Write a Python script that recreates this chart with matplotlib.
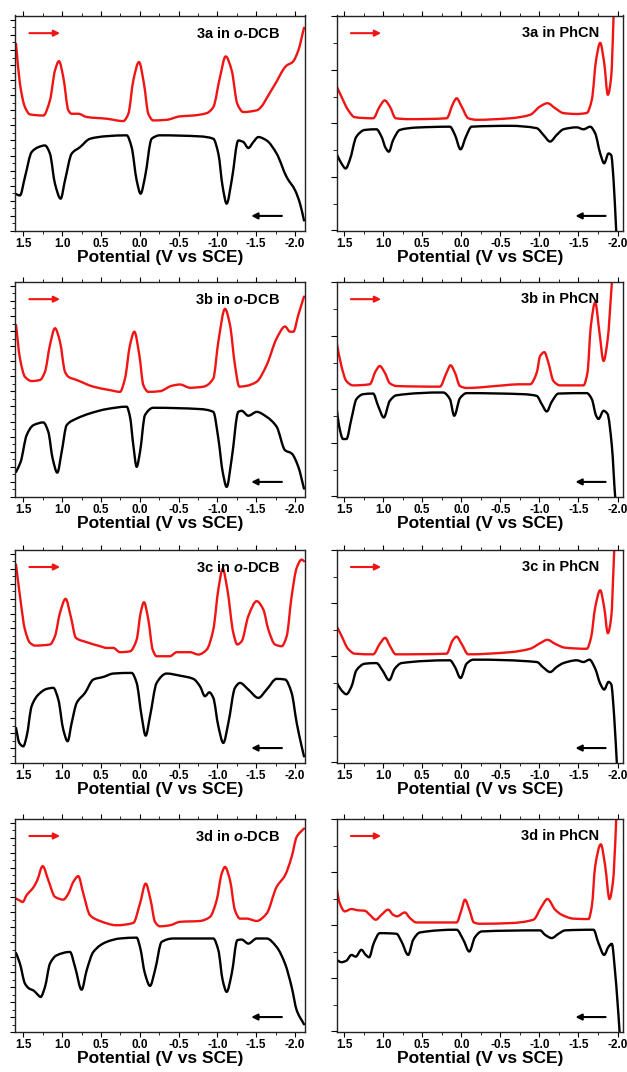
import numpy as np
import matplotlib
matplotlib.use("Agg")
from matplotlib import pyplot as plt
from matplotlib.path import Path
from matplotlib.patches import PathPatch
from matplotlib.ticker import MultipleLocator, FixedLocator, NullFormatter

plt.rcParams['font.family'] = ['Liberation Sans', 'DejaVu Sans']
plt.rcParams['mathtext.fontset'] = 'custom'
plt.rcParams['mathtext.it'] = 'Liberation Sans:italic:bold'
plt.rcParams['mathtext.rm'] = 'Liberation Sans:bold'
plt.rcParams['axes.unicode_minus'] = False

# ---- data: potential (V vs SCE) and current (arb. units, 0-100 of panel) ----
# 3a in o-DCB
dcb_3a_red_E = [1.594, 1.543, 1.479, 1.414, 1.242, 1.157, 1.092, 1.041, 0.985, 0.920, 0.877, 0.792, 0.684, 0.427,
                0.212, 0.147, 0.083, 0.010, -0.054, -0.110, -0.175, -0.346, -0.518, -0.690, -0.862, -0.947, -1.033,
                -1.106, -1.184, -1.256, -1.334, -1.506, -1.720, -1.892, -1.969, -2.042, -2.115]
dcb_3a_red_I = [86.9, 68.3, 57.5, 54.1, 53.6, 60.6, 74.5, 78.8, 71.4, 56.0, 54.4, 54.4, 52.9, 52.1,
                51.0, 54.4, 69.9, 78.4, 68.3, 54.4, 51.3, 51.6, 53.2, 53.6, 54.7, 57.5, 71.4,
                81.0, 74.5, 59.0, 55.2, 56.0, 66.8, 76.8, 78.4, 83.8, 94.3]
dcb_3a_blk_E = [1.607, 1.543, 1.479, 1.393, 1.307, 1.221, 1.157, 1.092, 1.019, 0.963, 0.877, 0.770, 0.641, 0.427,
                0.169, 0.105, 0.040, -0.011, -0.067, -0.153, -0.260, -0.776, -0.947, -1.012, -1.068, -1.119,
                -1.184, -1.269, -1.334, -1.398, -1.463, -1.527, -1.634, -1.763, -1.892, -2.000, -2.064, -2.115]
dcb_3a_blk_I = [17.3, 16.5, 25.0, 36.6, 38.9, 39.7, 35.9, 21.9, 15.0, 23.5, 35.9, 38.9, 42.8, 44.0,
                44.4, 38.9, 23.5, 17.3, 25.0, 42.8, 44.4, 43.9, 42.8, 35.9, 20.4, 12.7,
                23.5, 42.0, 41.3, 38.5, 41.3, 43.6, 42.0, 35.9, 25.0, 18.9, 12.7, 4.9]

# 3a in PhCN
phcn_3a_red_E = [1.598, 1.534, 1.449, 1.363, 1.128, 1.043, 0.979, 0.915, 0.838, 0.658, 0.188, 0.103, 0.060, -0.004,
                 -0.090, -0.197, -0.624, -0.880, -1.009, -1.103, -1.201, -1.308, -1.479, -1.607, -1.671, -1.726,
                 -1.778, -1.829, -1.876, -1.919, -1.949, -1.957]
phcn_3a_red_I = [67.4, 62.4, 56.2, 52.8, 52.3, 57.8, 60.6, 57.8, 52.3, 51.9, 52.3, 59.3, 61.6, 57.8,
                 52.3, 51.6, 52.3, 53.9, 57.8, 59.3, 57.0, 54.7, 54.3, 54.8, 60.9, 79.5,
                 87.3, 78.0, 63.2, 71.7, 99.7, 110]
phcn_3a_blk_E = [1.598, 1.534, 1.479, 1.427, 1.342, 1.235, 1.085, 1.021, 0.966, 0.927, 0.872, 0.786, 0.573, 0.145,
                 0.081, 0.009, -0.060, -0.132, -0.624, -0.966, -1.051, -1.137, -1.222, -1.308, -1.479, -1.564,
                 -1.650, -1.714, -1.778, -1.829, -1.885, -1.919, -1.949, -1.983, -1.991]
phcn_3a_blk_I = [36.0, 31.4, 29.0, 32.9, 43.8, 46.9, 47.2, 43.8, 38.4, 36.8, 42.2, 46.9, 48.0, 48.4,
                 44.6, 37.9, 43.8, 48.4, 48.8, 47.7, 44.6, 41.5, 44.6, 47.2, 48.1, 47.2,
                 48.4, 45.3, 36.0, 31.4, 36.0, 35.2, 23.6, 0.0, -5]

# 3b in o-DCB
dcb_3b_red_E = [1.594, 1.543, 1.479, 1.393, 1.285, 1.221, 1.157, 1.092, 1.028, 0.963, 0.920, 0.813, 0.598, 0.384,
                0.255, 0.190, 0.126, 0.070, 0.006, -0.046, -0.110, -0.260, -0.411, -0.518, -0.647, -0.819, -0.947,
                -1.012, -1.098, -1.162, -1.226, -1.282, -1.377, -1.506, -1.634, -1.763, -1.871, -1.935, -1.978,
                -2.042, -2.115]
dcb_3b_red_I = [79.8, 64.3, 55.8, 53.8, 54.3, 58.1, 70.5, 78.3, 72.1, 58.1, 55.8, 54.3, 51.2, 49.6,
                48.8, 55.0, 70.5, 76.7, 65.9, 51.9, 48.8, 49.1, 51.6, 52.2, 50.7, 51.2, 55.0,
                72.1, 87.3, 79.8, 61.2, 51.2, 51.6, 53.5, 61.2, 73.6, 79.1, 76.7, 76.7,
                84.5, 93.0]
dcb_3b_blk_E = [1.594, 1.534, 1.457, 1.371, 1.242, 1.178, 1.122, 1.062, 1.006, 0.942, 0.813, 0.641, 0.427, 0.169,
                0.126, 0.083, 0.040, -0.003, -0.067, -0.175, -0.776, -0.947, -1.012, -1.068, -1.119, -1.184,
                -1.269, -1.312, -1.398, -1.506, -1.634, -1.763, -1.871, -1.956, -2.042, -2.115]
dcb_3b_blk_I = [11.6, 16.3, 28.7, 33.3, 34.6, 30.2, 17.8, 11.3, 20.9, 33.3, 36.4, 38.8, 40.8, 41.9,
                37.2, 24.0, 14.0, 20.9, 38.0, 41.4, 40.8, 39.5, 27.1, 11.6, 4.7, 17.8,
                39.5, 40.0, 37.7, 39.5, 37.2, 32.6, 21.7, 20.2, 14.0, 3.9]

# 3b in PhCN
phcn_3b_red_E = [1.598, 1.534, 1.470, 1.385, 1.171, 1.094, 1.043, 0.979, 0.915, 0.829, 0.274, 0.188, 0.137, 0.081,
                 0.017, -0.068, -0.538, -0.731, -0.880, -0.966, -1.009, -1.064, -1.115, -1.180, -1.265, -1.564,
                 -1.615, -1.658, -1.714, -1.769, -1.821, -1.872, -1.927, -1.949]
phcn_3b_red_I = [72.3, 60.8, 53.8, 51.8, 52.3, 58.5, 60.8, 57.7, 52.8, 51.5, 51.2, 57.7, 61.1, 57.7,
                 51.5, 50.6, 51.8, 52.3, 52.3, 57.7, 65.4, 67.2, 62.3, 53.8, 51.8, 51.8,
                 57.7, 79.2, 90.3, 76.2, 63.1, 72.6, 99.2, 110]
phcn_3b_blk_E = [1.598, 1.564, 1.513, 1.470, 1.406, 1.342, 1.256, 1.128, 1.064, 0.991, 0.915, 0.829, 0.231, 0.145,
                 0.090, 0.017, -0.068, -0.795, -0.966, -1.030, -1.094, -1.158, -1.244, -1.607, -1.671, -1.726,
                 -1.756, -1.821, -1.872, -1.927, -1.970, -1.983]
phcn_3b_blk_I = [42.3, 33.1, 26.9, 26.9, 36.2, 45.4, 47.7, 48.0, 42.3, 36.9, 44.6, 47.2, 48.5, 45.4,
                 37.7, 45.8, 48.2, 47.7, 46.9, 43.1, 39.7, 44.2, 48.0, 48.2, 45.4, 37.7,
                 36.2, 40.0, 38.5, 23.8, 0.0, -5]

# 3c in o-DCB
dcb_3c_red_E = [1.594, 1.543, 1.479, 1.414, 1.350, 1.157, 1.092, 1.028, 0.955, 0.890, 0.822, 0.684, 0.512, 0.427,
                0.341, 0.255, 0.126, 0.040, -0.011, -0.054, -0.110, -0.166, -0.217, -0.389, -0.475, -0.647,
                -0.754, -0.862, -0.947, -1.012, -1.068, -1.128, -1.205, -1.256, -1.312, -1.398, -1.506, -1.591,
                -1.656, -1.742, -1.828, -1.892, -1.956, -2.021, -2.085, -2.115]
dcb_3c_red_I = [93.0, 78.1, 62.5, 56.3, 55.0, 55.5, 59.4, 70.3, 76.9, 68.8, 58.6, 56.6, 54.7, 53.9,
                53.9, 51.9, 52.3, 57.8, 70.3, 75.3, 67.2, 53.1, 50.0, 50.0, 51.9, 51.9,
                50.8, 53.1, 62.5, 81.3, 90.9, 81.3, 60.9, 55.5, 57.0, 68.8, 75.8, 71.9,
                62.5, 55.5, 54.7, 59.4, 78.1, 91.4, 95.3, 94.5]
dcb_3c_blk_E = [1.594, 1.552, 1.500, 1.457, 1.393, 1.307, 1.199, 1.114, 1.049, 0.985, 0.929, 0.877, 0.813, 0.706,
                0.598, 0.470, 0.341, 0.105, 0.040, -0.024, -0.076, -0.132, -0.217, -0.346, -0.518, -0.690,
                -0.776, -0.840, -0.896, -0.947, -1.012, -1.076, -1.141, -1.226, -1.291, -1.398, -1.527, -1.634,
                -1.763, -1.871, -1.956, -2.021, -2.085, -2.115]
dcb_3c_blk_I = [16.4, 9.4, 7.8, 12.5, 26.6, 32.0, 34.7, 35.2, 29.7, 15.6, 10.2, 18.8, 28.1, 32.8,
                39.1, 40.3, 41.9, 42.2, 37.5, 21.9, 12.8, 21.9, 37.5, 41.9, 40.9, 39.4,
                35.9, 31.3, 33.1, 30.5, 17.2, 9.4, 18.8, 35.2, 37.5, 34.4, 30.5, 34.4,
                39.4, 39.1, 32.8, 18.8, 7.8, 3.1]

# 3c in PhCN
phcn_3c_red_E = [1.598, 1.534, 1.449, 1.363, 1.128, 1.043, 0.974, 0.915, 0.838, 0.188, 0.111, 0.060, -0.004, -0.090,
                 -0.624, -0.880, -1.009, -1.103, -1.201, -1.329, -1.607, -1.662, -1.714, -1.778, -1.829, -1.876,
                 -1.919, -1.957, -1.970]
phcn_3c_red_I = [64.3, 59.7, 53.5, 51.2, 50.9, 55.8, 58.6, 55.0, 50.9, 51.2, 57.4, 59.2, 55.8, 50.9,
                 51.9, 53.5, 56.1, 57.7, 55.8, 54.0, 53.5, 58.9, 72.9, 80.9, 72.9, 60.8,
                 68.2, 99.2, 110]
phcn_3c_blk_E = [1.598, 1.534, 1.470, 1.406, 1.342, 1.235, 1.085, 1.009, 0.923, 0.850, 0.765, 0.145, 0.081, 0.009,
                 -0.068, -0.154, -0.966, -1.051, -1.137, -1.222, -1.308, -1.479, -1.564, -1.641, -1.714, -1.778,
                 -1.829, -1.885, -1.919, -1.957, -1.991, -2.000]
phcn_3c_blk_I = [38.0, 34.1, 32.2, 35.7, 43.4, 46.5, 46.8, 43.4, 38.8, 44.2, 46.8, 48.1, 45.0, 39.8,
                 46.5, 48.4, 47.3, 44.7, 42.6, 45.0, 46.8, 48.1, 47.3, 48.4, 44.2, 37.2,
                 34.4, 38.0, 36.9, 21.7, 0.0, -5]

# 3d in o-DCB
dcb_3d_red_E = [1.594, 1.552, 1.509, 1.457, 1.371, 1.320, 1.251, 1.178, 1.092, 0.985, 0.920, 0.856, 0.792, 0.727,
                0.641, 0.512, 0.298, 0.083, -0.003, -0.076, -0.140, -0.196, -0.260, -0.389, -0.518, -0.776,
                -0.904, -0.990, -1.055, -1.098, -1.162, -1.226, -1.291, -1.377, -1.506, -1.634, -1.763, -1.871,
                -1.956, -2.021, -2.115]
dcb_3d_red_I = [62.5, 61.7, 60.9, 64.1, 67.7, 71.1, 77.7, 71.1, 63.3, 62.0, 64.8, 70.3, 73.0, 64.8,
                54.7, 52.0, 50.0, 51.1, 60.2, 69.5, 61.7, 51.6, 49.5, 50.0, 51.6, 52.0,
                53.9, 61.7, 74.2, 77.3, 71.1, 57.0, 53.1, 53.1, 52.0, 55.5, 68.0, 73.4,
                82.0, 91.4, 95.3]
dcb_3d_blk_E = [1.594, 1.543, 1.479, 1.423, 1.371, 1.320, 1.277, 1.221, 1.157, 1.071, 0.899, 0.834, 0.749, 0.684,
                0.598, 0.427, 0.255, 0.040, -0.003, -0.067, -0.132, -0.196, -0.282, -0.432, -0.947, -1.012,
                -1.068, -1.119, -1.184, -1.256, -1.312, -1.398, -1.506, -1.634, -1.763, -1.871, -1.956, -2.021,
                -2.115]
dcb_3d_blk_I = [37.0, 32.0, 22.7, 20.3, 19.5, 17.7, 16.4, 21.1, 32.0, 35.9, 37.5, 30.5, 19.8, 28.9,
                37.5, 42.2, 43.8, 44.2, 39.8, 27.3, 21.6, 28.9, 42.2, 43.8, 43.8, 38.3,
                24.2, 18.8, 27.3, 43.0, 43.3, 41.4, 43.8, 43.8, 39.8, 32.0, 21.1, 10.2,
                3.6]

# 3d in PhCN
phcn_3d_red_E = [1.598, 1.556, 1.491, 1.406, 1.321, 1.235, 1.171, 1.094, 1.021, 0.936, 0.872, 0.821, 0.722, 0.658,
                 0.573, 0.060, -0.004, -0.047, -0.103, -0.162, -0.239, -0.624, -0.923, -1.030, -1.103, -1.201,
                 -1.286, -1.436, -1.628, -1.671, -1.714, -1.786, -1.842, -1.897, -1.940, -1.983, -1.991]
phcn_3d_red_I = [68.0, 60.4, 56.5, 57.6, 57.0, 56.8, 54.9, 52.6, 54.9, 57.3, 54.9, 54.2, 56.0, 53.4,
                 51.3, 51.3, 57.3, 62.0, 57.3, 51.3, 50.7, 51.0, 52.6, 58.9, 62.3, 57.3,
                 54.9, 53.1, 52.9, 58.9, 77.7, 87.9, 77.7, 62.3, 69.9, 100.0, 110]
phcn_3d_blk_E = [1.598, 1.534, 1.470, 1.406, 1.350, 1.278, 1.222, 1.179, 1.120, 1.043, 0.829, 0.765, 0.679, 0.615,
                 0.530, 0.060, -0.026, -0.103, -0.175, -0.261, -1.009, -1.073, -1.158, -1.244, -1.329, -1.692,
                 -1.756, -1.829, -1.885, -1.927, -1.970, -2.026, -2.034]
phcn_3d_blk_I = [33.8, 32.7, 33.4, 36.1, 35.3, 38.5, 36.1, 35.0, 41.6, 46.3, 46.0, 42.4, 36.1, 43.2,
                 46.6, 47.9, 43.2, 37.7, 44.4, 47.1, 47.6, 45.5, 44.0, 46.0, 47.6, 47.9,
                 41.6, 36.1, 40.0, 41.3, 27.5, 0.0, -5]

panels = [
    ("3a", "dcb", dcb_3a_red_E, dcb_3a_red_I, dcb_3a_blk_E, dcb_3a_blk_I),
    ("3a", "phcn", phcn_3a_red_E, phcn_3a_red_I, phcn_3a_blk_E, phcn_3a_blk_I),
    ("3b", "dcb", dcb_3b_red_E, dcb_3b_red_I, dcb_3b_blk_E, dcb_3b_blk_I),
    ("3b", "phcn", phcn_3b_red_E, phcn_3b_red_I, phcn_3b_blk_E, phcn_3b_blk_I),
    ("3c", "dcb", dcb_3c_red_E, dcb_3c_red_I, dcb_3c_blk_E, dcb_3c_blk_I),
    ("3c", "phcn", phcn_3c_red_E, phcn_3c_red_I, phcn_3c_blk_E, phcn_3c_blk_I),
    ("3d", "dcb", dcb_3d_red_E, dcb_3d_red_I, dcb_3d_blk_E, dcb_3d_blk_I),
    ("3d", "phcn", phcn_3d_red_E, phcn_3d_red_I, phcn_3d_blk_E, phcn_3d_blk_I),
]


def smooth_trace(ax, xs, ys, color):
    # bezier path through the read points, monotone (pchip-style) tangents
    x = np.asarray(xs, float)
    y = np.asarray(ys, float)
    h = np.diff(x)
    dl = np.diff(y) / h
    d = np.zeros_like(x)
    d[0], d[-1] = dl[0], dl[-1]
    for k in range(1, len(x) - 1):
        if dl[k - 1] * dl[k] > 0:
            w1 = 2 * h[k] + h[k - 1]
            w2 = h[k] + 2 * h[k - 1]
            d[k] = (w1 + w2) / (w1 / dl[k - 1] + w2 / dl[k])
    verts = [(x[0], y[0])]
    codes = [Path.MOVETO]
    for k in range(len(x) - 1):
        t = h[k] / 3
        verts += [(x[k] + t, y[k] + d[k] * t), (x[k + 1] - t, y[k + 1] - d[k + 1] * t), (x[k + 1], y[k + 1])]
        codes += [Path.CURVE4] * 3
    ax.add_patch(PathPatch(Path(verts, codes), facecolor="none", edgecolor=color, lw=1.7,
                           joinstyle="round", capstyle="round"))


RED = "#f01414"
W, H = 627, 1072
fig = plt.figure(figsize=(W / 100, H / 100), dpi=100)

row_top = [15.5, 281.5, 549.5, 818.5]
row_bot = [231, 497, 763, 1032]

for i, (cmp, solv, rE, rI, bE, bI) in enumerate(panels):
    r, c = divmod(i, 2)
    if c == 0:
        x0, w = 15, 290
    else:
        x0, w = 336.7, 286
    ax = fig.add_axes([x0 / W, 1 - row_bot[r] / H, w / W, (row_bot[r] - row_top[r]) / H])

    smooth_trace(ax, rE, rI, RED)
    smooth_trace(ax, bE, bI, "black")

    if solv == "dcb":
        ax.set_xlim(1.607, -2.128)
        ax.yaxis.set_major_locator(FixedLocator(np.arange(0, 101, 7.0)))
        ax.yaxis.set_minor_locator(FixedLocator(np.arange(3.5, 101, 7.0)))
        label = cmp + r" in $\mathit{o}$-DCB"
        tx = 0.914
        ax.tick_params(axis="y", which="major", length=3.5)
        ax.tick_params(axis="y", which="minor", length=2.5)
    else:
        ax.set_xlim(1.594, -2.066)
        ax.yaxis.set_major_locator(FixedLocator([0.3, 25.2, 50.0, 74.8, 99.6]))
        ax.yaxis.set_minor_locator(FixedLocator([12.7, 37.6, 62.4, 87.3]))
        label = cmp + " in PhCN"
        tx = 0.918
        ax.tick_params(axis="y", which="major", length=4)
        ax.tick_params(axis="y", which="minor", length=3)
    ax.set_ylim(0, 100)

    ax.xaxis.set_major_locator(MultipleLocator(0.5))
    ax.xaxis.set_minor_locator(MultipleLocator(0.25))
    ax.tick_params(axis="x", which="both", direction="out", top=True, bottom=True, labeltop=False,
                   labelsize=8.5, pad=1.5)
    ax.tick_params(axis="x", which="major", length=3.5)
    ax.tick_params(axis="x", which="minor", length=2)
    ax.tick_params(axis="y", which="both", direction="out", left=True, right=False, labelleft=False)
    ax.yaxis.set_major_formatter(NullFormatter())
    for lab in ax.get_xticklabels():
        lab.set_fontweight("bold")
    for s in ax.spines.values():
        s.set_linewidth(1.0)
        s.set_color("#222222")

    ax.set_xlabel("Potential (V vs SCE)", fontsize=12.5, fontweight="bold", labelpad=0)

    ax.text(tx, 0.918, label, transform=ax.transAxes, ha="right", va="center",
            fontsize=10.5, fontweight="bold")

    ax.annotate("", xy=(0.165, 0.918), xytext=(0.04, 0.918), xycoords="axes fraction",
                arrowprops=dict(arrowstyle="-|>", color=RED, lw=1.5, mutation_scale=9))
    bx = 0.93 if solv == "dcb" else 0.95
    ax.annotate("", xy=(bx - 0.125, 0.07), xytext=(bx, 0.07), xycoords="axes fraction",
                arrowprops=dict(arrowstyle="-|>", color="black", lw=1.5, mutation_scale=9))

fig.savefig("out.png", dpi=100)
